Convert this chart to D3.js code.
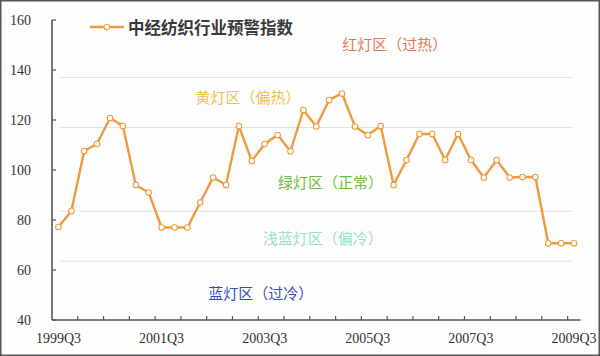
<!DOCTYPE html>
<html>
<head>
<meta charset="utf-8">
<script src="https://cdn.jsdelivr.net/npm/d3@7"></script>
<style>
  html, body { margin: 0; padding: 0; background: #fff; }
  svg { display: block; }
</style>
</head>
<body>
<script>
// quarters 1999Q3 .. 2009Q3
const quarters = []
for (let y = 1999; y <= 2009; y++) {
  for (let q = 1; q <= 4; q++) {
    if ((y === 1999 && q < 3) || (y === 2009 && q > 3)) continue
    quarters.push(y + 'Q' + q)
  }
}
const indexValues = [
  77.2, 83.6, 107.6, 110.5, 120.8, 117.6, 94, 91, 77, 77,
  77, 87, 97, 94, 117.6, 103.6, 110.4, 114, 107.5, 124,
  117.4, 128, 130.6, 117.4, 114, 117.6, 94, 104, 114.4, 114.4,
  104, 114.4, 104, 97, 104, 97, 97.2, 97.2, 70.7, 70.7,
  70.7,
]
const tickLabels = ['1999Q3', '2001Q3', '2003Q3', '2005Q3', '2007Q3', '2009Q3']
const yTicks = [40, 60, 80, 100, 120, 140, 160]
const zoneLines = [137, 117, 83.5, 63.5]
const zoneNames = ['红灯区（过热）', '黄灯区（偏热）', '绿灯区（正常）', '浅蓝灯区（偏冷）', '蓝灯区（过冷）']
const zoneColors = ['#e27a55', '#f0c24a', '#6cbf3c', '#95e2cc', '#3a4dbd']
// label anchor: [category position, value]
const zoneAt = [[26.1, 150.5], [14.7, 129.5], [21.1, 95.5], [20.5, 73], [15.7, 51]]
const seriesName = '中经纺织行业预警指数'

const width = 600
const height = 356
const svg = d3.select('body').append('svg')
  .attr('width', width)
  .attr('height', height)

svg.append('rect')
  .attr('x', 0.5).attr('y', 0.5)
  .attr('width', width - 1).attr('height', height - 1)
  .attr('fill', '#fdfdfd')
  .attr('stroke', '#555').attr('stroke-width', 2)

const x = d3.scaleBand().domain(quarters).range([52, 580.5]).padding(0)
const xc = (q) => x(q) + x.bandwidth() / 2
const xAt = (p) => xc(quarters[0]) + p * x.step()
const y = d3.scaleLinear().domain([40, 160]).range([320, 20])

// zone lines
svg.selectAll('.zone')
  .data(zoneLines)
  .enter()
  .append('line')
  .attr('x1', 59).attr('x2', 573)
  .attr('y1', (d) => y(d)).attr('y2', (d) => y(d))
  .attr('stroke', '#e2e2e2')
  .attr('stroke-width', 1.2)

// zone labels
svg.selectAll('.zlabel')
  .data(zoneNames)
  .enter()
  .append('text')
  .attr('x', (d, i) => xAt(zoneAt[i][0]))
  .attr('y', (d, i) => y(zoneAt[i][1]))
  .attr('text-anchor', 'middle')
  .attr('dominant-baseline', 'central')
  .attr('font-family', '"Noto Sans CJK SC", sans-serif')
  .attr('font-size', 15)
  .attr('fill', (d, i) => zoneColors[i])
  .text((d) => d)

// axes
const axisColor = '#555'
svg.append('line')
  .attr('x1', 52).attr('x2', 52)
  .attr('y1', y(160)).attr('y2', y(40))
  .attr('stroke', axisColor).attr('stroke-width', 1.6)
svg.append('line')
  .attr('x1', 52).attr('x2', 580.5)
  .attr('y1', y(40)).attr('y2', y(40))
  .attr('stroke', axisColor).attr('stroke-width', 1.6)

svg.selectAll('.ytick')
  .data(yTicks)
  .enter()
  .append('line')
  .attr('x1', 52).attr('x2', 56)
  .attr('y1', (d) => y(d)).attr('y2', (d) => y(d))
  .attr('stroke', axisColor).attr('stroke-width', 1.2)

svg.selectAll('.ylabel')
  .data(yTicks)
  .enter()
  .append('text')
  .attr('x', 31)
  .attr('y', (d) => y(d))
  .attr('text-anchor', 'end')
  .attr('dominant-baseline', 'central')
  .attr('font-family', '"Liberation Serif", serif')
  .attr('font-size', 14)
  .attr('fill', '#333')
  .text((d) => d)

svg.selectAll('.xtick')
  .data(quarters.filter((d, i) => i % 2 === 0 && i > 0))
  .enter()
  .append('line')
  .attr('x1', (d) => x(d)).attr('x2', (d) => x(d))
  .attr('y1', y(40)).attr('y2', y(40) - 4)
  .attr('stroke', axisColor).attr('stroke-width', 1.2)

svg.selectAll('.xlabel')
  .data(tickLabels)
  .enter()
  .append('text')
  .attr('x', (d) => xc(d))
  .attr('y', 338)
  .attr('text-anchor', 'middle')
  .attr('dominant-baseline', 'central')
  .attr('font-family', '"Liberation Serif", serif')
  .attr('font-size', 14)
  .attr('fill', '#333')
  .text((d) => d)

// series
const lineColor = '#ee9a3e'
const line = d3.line()
  .x((d, i) => xc(quarters[i]))
  .y((d) => y(d))

svg.append('path')
  .datum(indexValues)
  .attr('d', line)
  .attr('fill', 'none')
  .attr('stroke', lineColor)
  .attr('stroke-width', 2.4)

svg.selectAll('.pt')
  .data(indexValues)
  .enter()
  .append('circle')
  .attr('cx', (d, i) => xc(quarters[i]))
  .attr('cy', (d) => y(d))
  .attr('r', 2.8)
  .attr('fill', '#fff')
  .attr('stroke', lineColor)
  .attr('stroke-width', 1.1)

// legend
const lg = svg.append('g').attr('transform', 'translate(90, 27)')
lg.append('line')
  .attr('x1', 0).attr('x2', 34)
  .attr('stroke', lineColor).attr('stroke-width', 2.4)
lg.append('circle')
  .attr('cx', 17).attr('r', 2.8)
  .attr('fill', '#fff').attr('stroke', lineColor).attr('stroke-width', 1.1)
lg.append('text')
  .attr('x', 38)
  .attr('dominant-baseline', 'central')
  .attr('font-family', '"Noto Sans CJK SC", sans-serif')
  .attr('font-size', 16.5)
  .attr('font-weight', 'bold')
  .attr('fill', '#3a3a3a')
  .text(seriesName)
</script>
</body>
</html>
